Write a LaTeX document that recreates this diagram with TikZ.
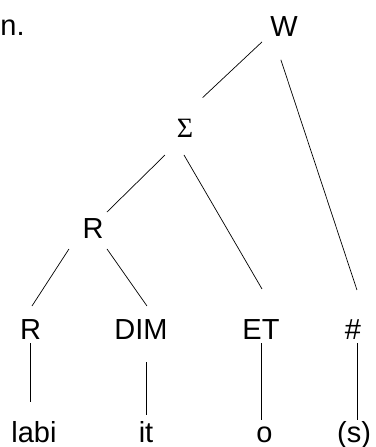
\documentclass[tikz,border=0pt]{standalone}
\usepackage{fontspec}
\setmainfont{Liberation Sans}
\newfontfamily\greekfont{Liberation Serif}
\usepackage{tikz}

\begin{document}
\begin{tikzpicture}[x=1pt,y=-1pt,line width=0.7pt,every node/.style={inner sep=0pt, outer sep=0pt, anchor=base, text height=21pt, text depth=0pt, font=\fontsize{29}{32}\selectfont}]
            \useasboundingbox (0,0) rectangle (375,447);

            \node (num) at (0.5,35) [anchor=base west] {n.};

            \node (W) at (284,36) {W};
            \node (S) at (185,137) [font=\fontsize{28}{30}\greekfont] {Σ};
            \node (Rt) at (93,238) {R};

            \node (R) at (30.5,339) {R};
            \node (DIM) at (141,339) {DIM};
            \node (ET) at (261,339) {ET};
            \node (hash) at (353,339) {\#};

            \node (labi) at (34,442) {labi};
            \node (it) at (146,442) {it};
            \node (o) at (264.5,442) {o};
            \node (s) at (354,442) {(s)};

            \draw[shorten <=8.7pt, shorten >=27pt] ([xshift=-15.7pt]W.south) -- ([xshift=-2pt]S.north);
            \draw[shorten <=25pt, shorten >=29.5pt] ([xshift=-11pt]W.south) -- ([xshift=13.2pt]hash.north);

            \draw[shorten <=25.7pt, shorten >=7.1pt] ([xshift=-1.7pt]S.south) -- ([xshift=8.9pt]Rt.north);
            \draw[shorten <=20.8pt, shorten >=33.6pt] ([xshift=-11.5pt]S.south) -- ([xshift=17.9pt]ET.north);

            \draw[shorten <=13.1pt, shorten >=14.3pt] ([xshift=-16.9pt]Rt.south) -- ([xshift=-6.3pt]R.north);
            \draw[shorten <=13.4pt, shorten >=14.7pt] ([xshift=6.3pt]Rt.south) -- ([xshift=14.4pt]DIM.north);

            \draw[shorten <=4pt, shorten >=19pt] (R.south) -- (R.south |- labi.north);
            \draw[shorten <=23pt, shorten >=6pt] (it.north |- DIM.south) -- (it.north);
            \draw[shorten <=4pt, shorten >=1pt] (ET.south) -- (ET.south |- o.north);
            \draw[shorten <=4pt, shorten >=1pt] ([xshift=4.5pt]hash.south) -- ([xshift=4.5pt]hash.south |- s.north);
        \end{tikzpicture}
\end{document}
